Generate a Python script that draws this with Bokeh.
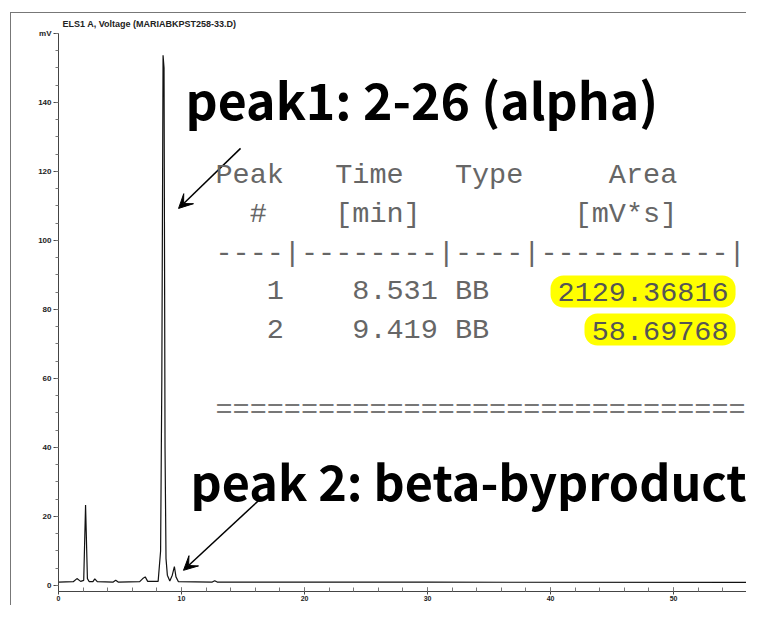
from bokeh.plotting import figure
from bokeh.models import Range1d, SingleIntervalTicker, Label, Arrow, VeeHead, BoxAnnotation
from bokeh.embed import file_html
from bokeh.resources import INLINE

# chromatogram trace (time in min, signal in mV)
time_min = [0.0, 1.2, 1.5, 1.8, 2.05, 2.2, 2.35, 2.5, 2.8, 2.95, 3.15, 4.45, 4.65, 4.85,
            6.6, 6.85, 7.05, 7.25, 8.1, 8.3, 8.4, 8.5, 8.58, 8.66, 8.74, 8.85, 9.05, 9.25,
            9.42, 9.55, 9.75, 12.5, 12.7, 12.9, 30.0, 56.0]
signal_mv = [1.0, 1.1, 2.0, 1.2, 1.5, 23.3, 2.0, 1.1, 1.1, 1.9, 1.1, 1.0, 1.5, 1.0,
             1.1, 2.0, 2.5, 1.2, 1.2, 10.0, 60.0, 153.7, 150.0, 40.0, 7.8, 3.0, 1.3, 3.0,
             5.5, 2.5, 1.1, 1.0, 1.4, 1.0, 0.95, 0.9]

title_text = "ELS1 A, Voltage (MARIABKPST258-33.D)"
note1 = "peak1: 2-26 (alpha)"
note2 = "peak 2: beta-byproduct"

NB = "\u00a0"
table_lines = [
    "Peak   Time   Type     Area",
    "  #    [min]         [mV*s]",
    "----|--------|----|-----------|",
    "   1    8.531 BB",
    "   2    9.419 BB",
]
table_rule = "==============================="
areas = ["2129.36816", "58.69768"]

p = figure(width=746, height=605, x_range=Range1d(0, 55.93), y_range=Range1d(-1.74, 160),
           output_backend="svg", toolbar_location=None,
           min_border_left=58, min_border_right=0, min_border_top=33, min_border_bottom=14)
p.border_fill_color = None
p.styles = {
    "background-image": "linear-gradient(#777,#777), linear-gradient(#777,#777)",
    "background-size": "1px 100%, 100% 1px",
    "background-position": "10px 12px, 10px 12px",
    "background-repeat": "no-repeat",
}

p.outline_line_color = None
p.background_fill_color = None
p.xgrid.visible = False
p.ygrid.visible = False

p.title.text = title_text
p.title.align = "left"
p.title.offset = 4
p.title.standoff = 10
p.title.text_font = "Liberation Sans"
p.title.text_font_size = "9px"
p.title.text_font_style = "bold"
p.title.text_color = "#222"

p.yaxis.ticker = SingleIntervalTicker(interval=20, num_minor_ticks=4)
p.yaxis.major_label_overrides = {160: "mV"}
p.xaxis.ticker = SingleIntervalTicker(interval=10, num_minor_ticks=5)
for ax in (p.xaxis, p.yaxis):
    ax.axis_line_color = "#444"
    ax.major_tick_line_color = "#444"
    ax.minor_tick_line_color = "#777"
    ax.major_label_text_font = "Liberation Sans"
    ax.major_label_text_font_style = "bold"
    ax.major_label_text_color = "#222"
p.yaxis.major_label_text_font_size = "8px"
p.yaxis.major_label_standoff = 2
p.xaxis.major_label_text_font_size = "7px"
p.xaxis.major_label_standoff = 1
p.yaxis.major_tick_in = 0
p.yaxis.major_tick_out = 5
p.yaxis.minor_tick_in = 0
p.yaxis.minor_tick_out = 3
p.xaxis.major_tick_in = 4
p.xaxis.major_tick_out = 3
p.xaxis.minor_tick_in = 4
p.xaxis.minor_tick_out = 0

p.line(time_min, signal_mv, line_color="#111", line_width=1.2)

big_font = "Noto Sans CJK SC"
p.add_layout(Label(x=10.33, y=141.2, text=note1, text_font=big_font,
                   text_font_size="50px", text_font_style="bold", text_color="black",
                   text_baseline="alphabetic"))
p.add_layout(Label(x=10.73, y=30.6, text=note2, text_font=big_font,
                   text_font_size="48.5px", text_font_style="bold", text_color="black",
                   text_baseline="alphabetic"))

p.add_layout(Arrow(x_start=14.8, y_start=126.7, x_end=9.76, y_end=109.3, line_width=1.5,
                   line_color="black",
                   end=VeeHead(size=14, fill_color="black", line_color="black")))
p.add_layout(Arrow(x_start=16.26, y_start=24.6, x_end=10.16, y_end=4.4, line_width=1.5,
                   line_color="black",
                   end=VeeHead(size=14, fill_color="black", line_color="black")))

# yellow highlight pills behind the two area values
for l, r, b, t in [(40.0, 55.04, 80.58, 89.86), (42.76, 55.04, 69.57, 78.84)]:
    box = BoxAnnotation(left=l, right=r, bottom=b, top=t, fill_color="#FFFF00",
                        fill_alpha=1.0, line_color=None)
    try:
        box.border_radius = 13
    except Exception:
        pass
    p.add_layout(box)

mono = "Liberation Mono"
mono_size = "28.5px"
tx = 12.76
line_y = [118.8, 107.5, 96.3, 85.2, 73.9]
for s, yy in zip(table_lines, line_y):
    p.add_layout(Label(x=tx, y=yy, text=s.replace(" ", NB), text_font=mono,
                       text_font_size=mono_size, text_color="#666",
                       text_baseline="alphabetic"))
p.add_layout(Label(x=tx, y=50.8, text=table_rule, text_font=mono, text_font_size=mono_size,
                   text_color="#777", text_baseline="alphabetic"))

area_x = [40.57, 43.35]
for s, xx, yy in zip(areas, area_x, line_y[3:]):
    p.add_layout(Label(x=xx, y=yy, text=s, text_font=mono, text_font_size=mono_size,
                       text_color="#555", text_baseline="alphabetic"))

open("out.html", "w").write(file_html(p, INLINE))
